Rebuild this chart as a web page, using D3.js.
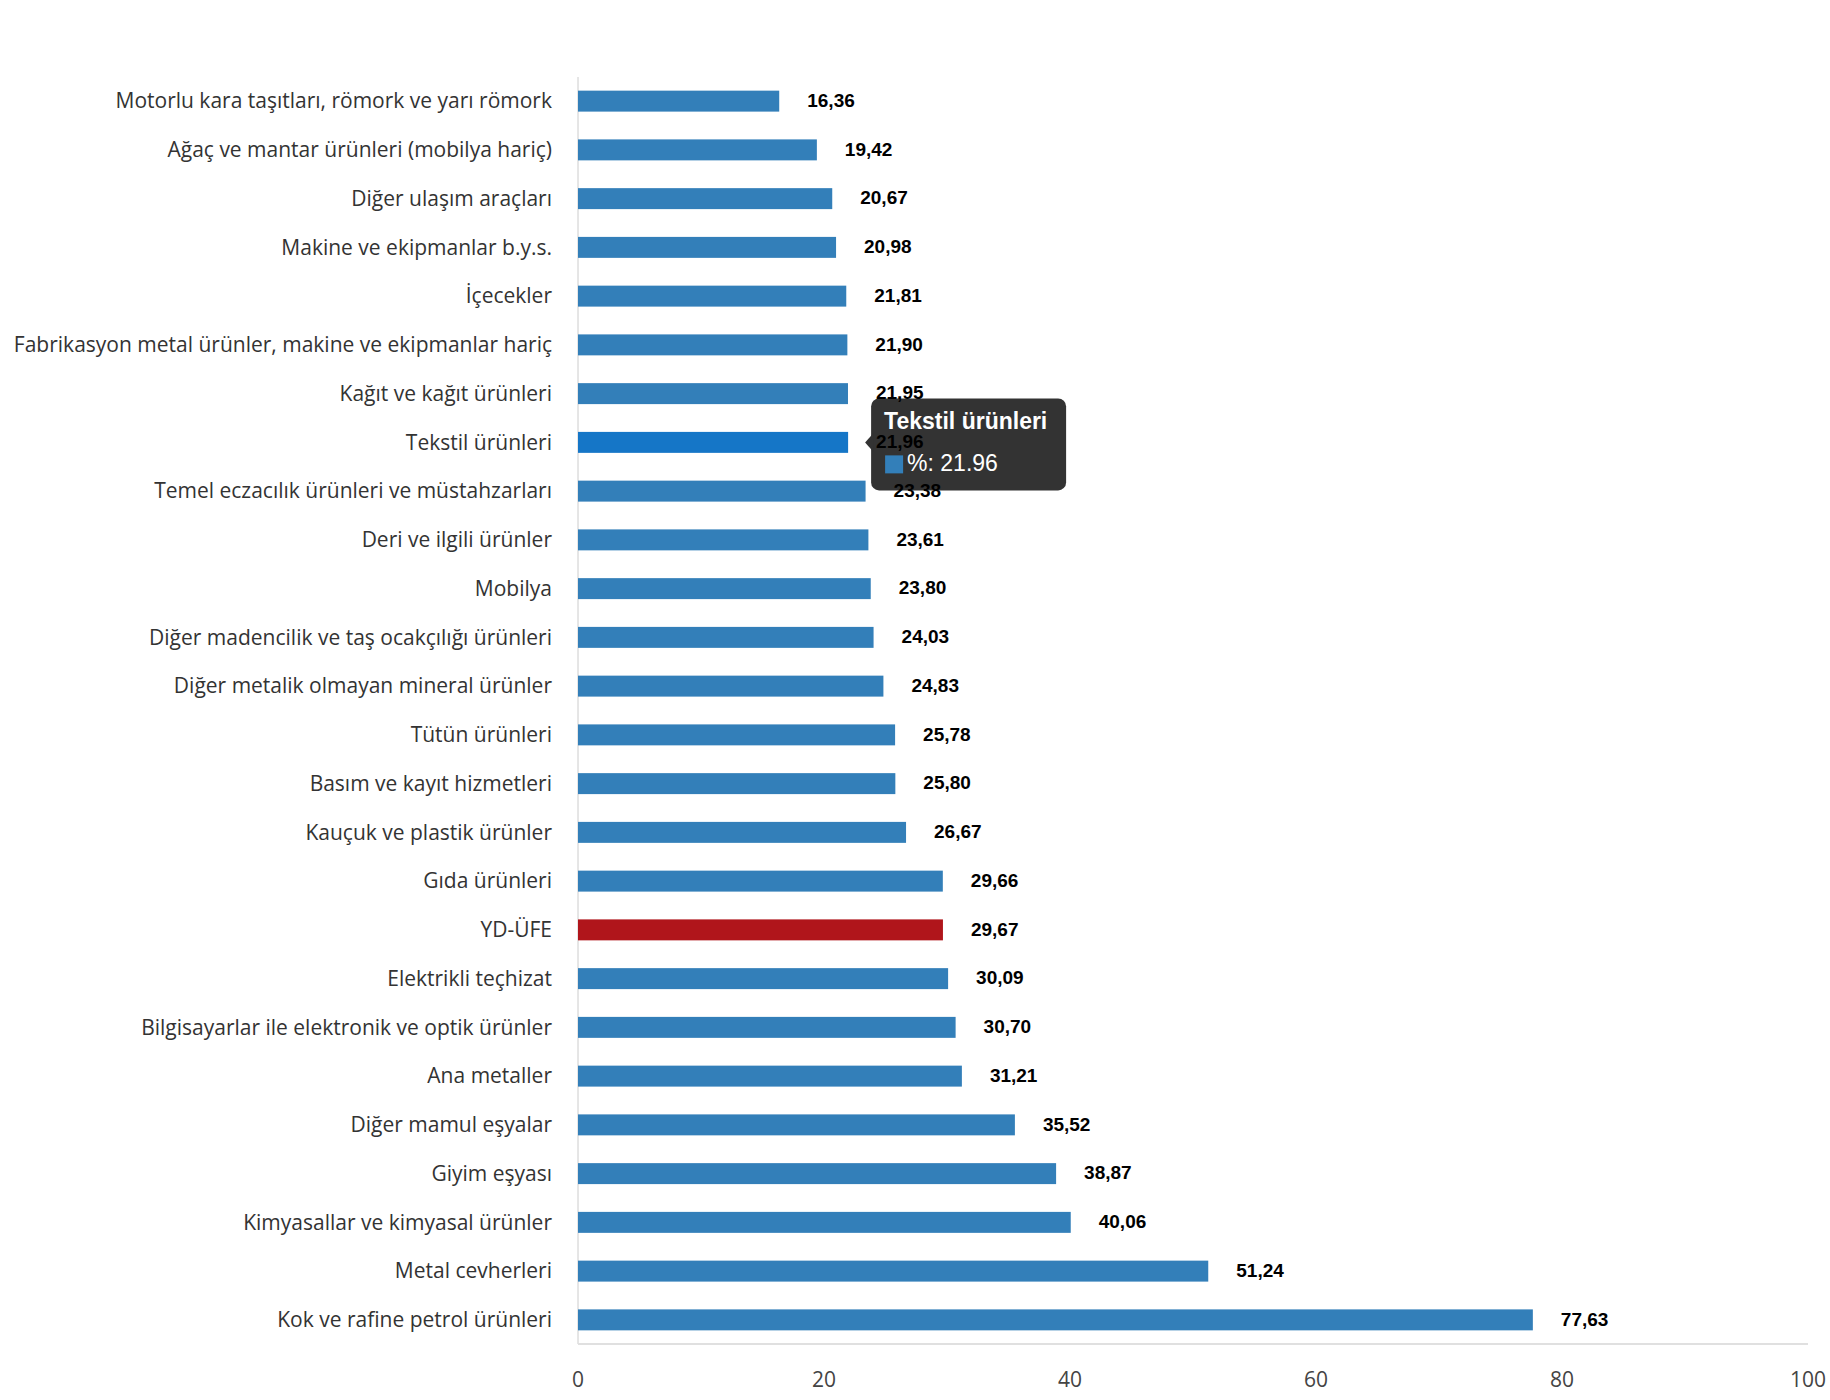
<!DOCTYPE html>
<html><head><meta charset="utf-8">
<script src="https://cdn.jsdelivr.net/npm/d3@7"></script>
<style>body{margin:0;background:#fff;font-family:"Open Sans",sans-serif}</style>
</head><body><div id="chart"></div>
<script>
const categories = ["Motorlu kara taşıtları, römork ve yarı römork","Ağaç ve mantar ürünleri (mobilya hariç)","Diğer ulaşım araçları","Makine ve ekipmanlar b.y.s.","İçecekler","Fabrikasyon metal ürünler, makine ve ekipmanlar hariç","Kağıt ve kağıt ürünleri","Tekstil ürünleri","Temel eczacılık ürünleri ve müstahzarları","Deri ve ilgili ürünler","Mobilya","Diğer madencilik ve taş ocakçılığı ürünleri","Diğer metalik olmayan mineral ürünler","Tütün ürünleri","Basım ve kayıt hizmetleri","Kauçuk ve plastik ürünler","Gıda ürünleri","YD-ÜFE","Elektrikli teçhizat","Bilgisayarlar ile elektronik ve optik ürünler","Ana metaller","Diğer mamul eşyalar","Giyim eşyası","Kimyasallar ve kimyasal ürünler","Metal cevherleri","Kok ve rafine petrol ürünleri"];
const values = [16.36,19.42,20.67,20.98,21.81,21.90,21.95,21.96,23.38,23.61,23.80,24.03,24.83,25.78,25.80,26.67,29.66,29.67,30.09,30.70,31.21,35.52,38.87,40.06,51.24,77.63];
const xTicks = [0,20,40,60,80,100];
const highlighted = "Tekstil ürünleri";
const total = "YD-ÜFE";

const W = 1830, H = 1400;
const m = {left: 578, right: 22, top: 77, bottom: 56};
const svg = d3.select("#chart").append("svg").attr("width", W).attr("height", H);
const x = d3.scaleLinear().domain([0,100]).range([m.left, W - m.right]);
const y = d3.scaleBand().domain(categories).range([m.top, H - m.bottom]).paddingInner(0.57).paddingOuter(0.28);

// axis lines
svg.append("line").attr("x1", x(0)).attr("x2", x(0)).attr("y1", m.top).attr("y2", H - m.bottom).attr("stroke", "#ccc");
svg.append("line").attr("x1", x(0)).attr("x2", x(100)).attr("y1", H - m.bottom).attr("y2", H - m.bottom).attr("stroke", "#e0e0e0").attr("stroke-width", 2);
svg.selectAll("text.tick").data(xTicks).enter().append("text")
  .attr("x", d => x(d)).attr("y", H - m.bottom + 43).attr("text-anchor", "middle")
  .attr("font-size", 21).attr("fill", "#444").text(d => d);

// category labels
svg.selectAll("text.cat").data(categories).enter().append("text")
  .attr("x", m.left - 26).attr("y", d => y(d) + y.bandwidth()/2).attr("dy", "0.35em")
  .attr("text-anchor", "end").attr("font-size", 21).attr("fill", "#333").text(d => d);

// bars
svg.selectAll("rect.bar").data(categories).enter().append("rect")
  .attr("x", x(0)).attr("y", d => y(d)).attr("height", y.bandwidth())
  .attr("width", (d,i) => x(values[i]) - x(0))
  .attr("fill", d => d === total ? "#b0151b" : d === highlighted ? "#1576c7" : "#337fb9");

// tooltip
const hi = categories.indexOf(highlighted);
const ty = y(highlighted) + y.bandwidth()/2;
const tx = x(values[hi]) + 17;
const tip = svg.append("g");
tip.append("rect").attr("x", tx + 6).attr("y", ty - 44).attr("width", 195).attr("height", 92).attr("rx", 8).attr("fill", "#333");
tip.append("path").attr("d", `M${tx},${ty} L${tx+8},${ty-9} L${tx+8},${ty+9} Z`).attr("fill", "#333");
tip.append("text").attr("x", tx + 19).attr("y", ty - 13).attr("font-family", "Liberation Sans, Arial, sans-serif").attr("font-weight", "bold").attr("font-size", 23).attr("fill", "#fff").text(highlighted);
tip.append("rect").attr("x", tx + 20).attr("y", ty + 13).attr("width", 18).attr("height", 18).attr("fill", "#337fb9");
tip.append("text").attr("x", tx + 42).attr("y", ty + 29).attr("font-family", "Liberation Sans, Arial, sans-serif").attr("font-size", 23).attr("fill", "#fff").text("%: " + values[hi].toFixed(2));

// value labels
svg.selectAll("text.val").data(categories).enter().append("text")
  .attr("x", (d,i) => x(values[i]) + 28).attr("y", d => y(d) + y.bandwidth()/2).attr("dy", "0.3em")
  .attr("font-family", "Liberation Sans, Arial, sans-serif").attr("font-weight", "bold").attr("font-size", 19).attr("fill", "#000")
  .text((d,i) => values[i].toFixed(2).replace(".", ","));
</script></body></html>
